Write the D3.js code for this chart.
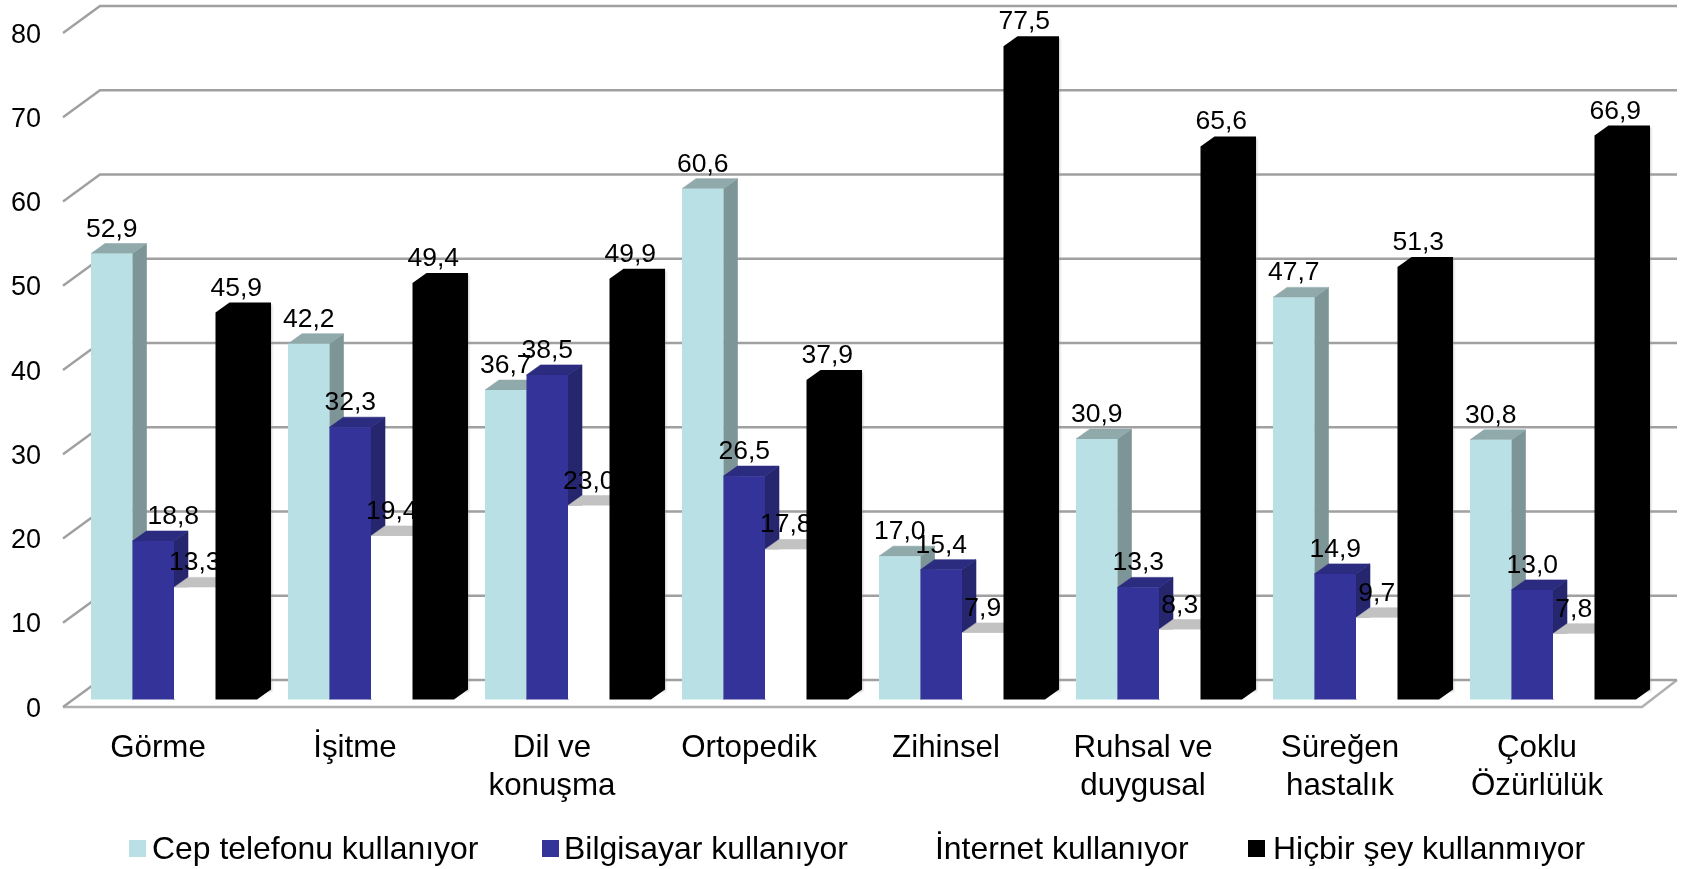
<!DOCTYPE html>
<html><head><meta charset="utf-8">
<script src="https://cdnjs.cloudflare.com/ajax/libs/d3/7.8.5/d3.min.js"></script>
<style>html,body{margin:0;padding:0;background:#fff;overflow:hidden}svg{display:block;filter:blur(0.6px)}text{font-family:"Liberation Sans",Arial,sans-serif;fill:#000}</style>
</head><body><svg id="c" width="1683" height="869"></svg>
<script>
const categories=[["Görme"],["İşitme"],["Dil ve","konuşma"],["Ortopedik"],["Zihinsel"],["Ruhsal ve","duygusal"],["Süreğen","hastalık"],["Çoklu","Özürlülük"]];
const seriesNames=["Cep telefonu kullanıyor","Bilgisayar kullanıyor","İnternet kullanıyor","Hiçbir şey kullanmıyor"];
const cep=[52.9,42.2,36.7,60.6,17.0,30.9,47.7,30.8];
const bilgisayar=[18.8,32.3,38.5,26.5,15.4,13.3,14.9,13.0];
const internet=[13.3,19.4,23.0,17.8,7.9,8.3,9.7,7.8];
const hicbir=[45.9,49.4,49.9,37.9,77.5,65.6,51.3,66.9];
const allSeries=[cep,bilgisayar,internet,hicbir];
const yTicks=[0,10,20,30,40,50,60,70,80];
const front=["#b9e0e4","#333399","#ffffff","#000000"];
const side=["#7d9596","#26266f","#ffffff","#000000"];
const topc=["#90a9ab","#2b2b80","#c2c2c2","#000000"];
const legendX=[129,542,null,1248], legendTextX=[152,564,935,1273];

const svg=d3.select("#c");
const dx=14,dy=10,wallDx=37,wallDy=27;
const x0=d3.scaleBand().domain(d3.range(categories.length)).range([59.5,59.5+197*8]);
const x1=d3.scaleBand().domain(d3.range(4)).range([31.5,197.5]);
const yBar=d3.scaleLinear().domain([0,80]).range([699.5,25.1]);
const yGrid=d3.scaleLinear().domain([0,80]).range([707,33]);
const gridColor="#a0a0a0";
// floor
svg.append("path").attr("d",`M63,${yGrid(0)}L1642,${yGrid(0)}L${1642+35},${yGrid(0)-wallDy}`).attr("fill","none").attr("stroke","#b0b0b0").attr("stroke-width",2.4);
yTicks.forEach(t=>{
  const y=yGrid(t);
  svg.append("path").attr("d",`M63,${y}L${63+wallDx},${y-wallDy}L1677,${y-wallDy}`).attr("fill","none").attr("stroke",gridColor).attr("stroke-width",2.4);
  svg.append("text").attr("x",41).attr("y",y+9.5).attr("text-anchor","end").attr("font-size",27).text(t);
});
// bars
categories.forEach((c,i)=>{
  allSeries.forEach((s,k)=>{
    const l=x0(i)+x1(k), r=l+x1.bandwidth(), t=yBar(s[i]), b=yBar(0);
    const g=svg.append("g");
    if(k==3){
      g.append("rect").attr("x",l+dx+1).attr("y",t-dy+2).attr("width",r-l).attr("height",b-t).attr("fill","#999").attr("opacity",.5).attr("style","filter:blur(1px)");
      g.append("path").attr("d",`M${l},${t}L${l+dx},${t-dy}L${r+dx},${t-dy}L${r+dx},${b-dy}L${r},${b}L${l},${b}Z`).attr("fill",front[k]);
      return;
    }
    g.append("path").attr("d",`M${r},${t}L${r+dx},${t-dy}L${r+dx},${b-dy}L${r},${b}Z`).attr("fill",side[k]).attr("stroke",side[k]).attr("stroke-width",.6);
    g.append("path").attr("d",`M${l},${t}L${l+dx},${t-dy}L${r+dx},${t-dy}L${r},${t}Z`).attr("fill",topc[k]).attr("stroke",topc[k]).attr("stroke-width",.6);
    g.append("rect").attr("x",l).attr("y",t).attr("width",r-l).attr("height",b-t).attr("fill",front[k]);
  });
});
// labels
const fmt=v=>v.toFixed(1).replace(".",",");
categories.forEach((c,i)=>{
  allSeries.forEach((s,k)=>{
    const off=(i==0&&k==1)?20:0;
    svg.append("text").attr("x",x0(i)+x1(k)+x1.bandwidth()/2+off).attr("y",yBar(s[i])-dy-7)
      .attr("text-anchor","middle").attr("font-size",26.5).text(fmt(s[i]));
  });
  c.forEach((ln,j)=>{
    const cx=x0(i)+x0.bandwidth()/2;
    svg.append("text").attr("x",cx).attr("y",757+j*38).attr("text-anchor","middle").attr("font-size",31.3).text(ln);
  });
});
// legend
seriesNames.forEach((n,k)=>{
  if(legendX[k]!=null) svg.append("rect").attr("x",legendX[k]).attr("y",840).attr("width",17).attr("height",17).attr("fill",front[k]);
  svg.append("text").attr("transform",`translate(${legendTextX[k]},859) scale(1.03,1)`).attr("font-size",31).text(n);
});
</script></body></html>
